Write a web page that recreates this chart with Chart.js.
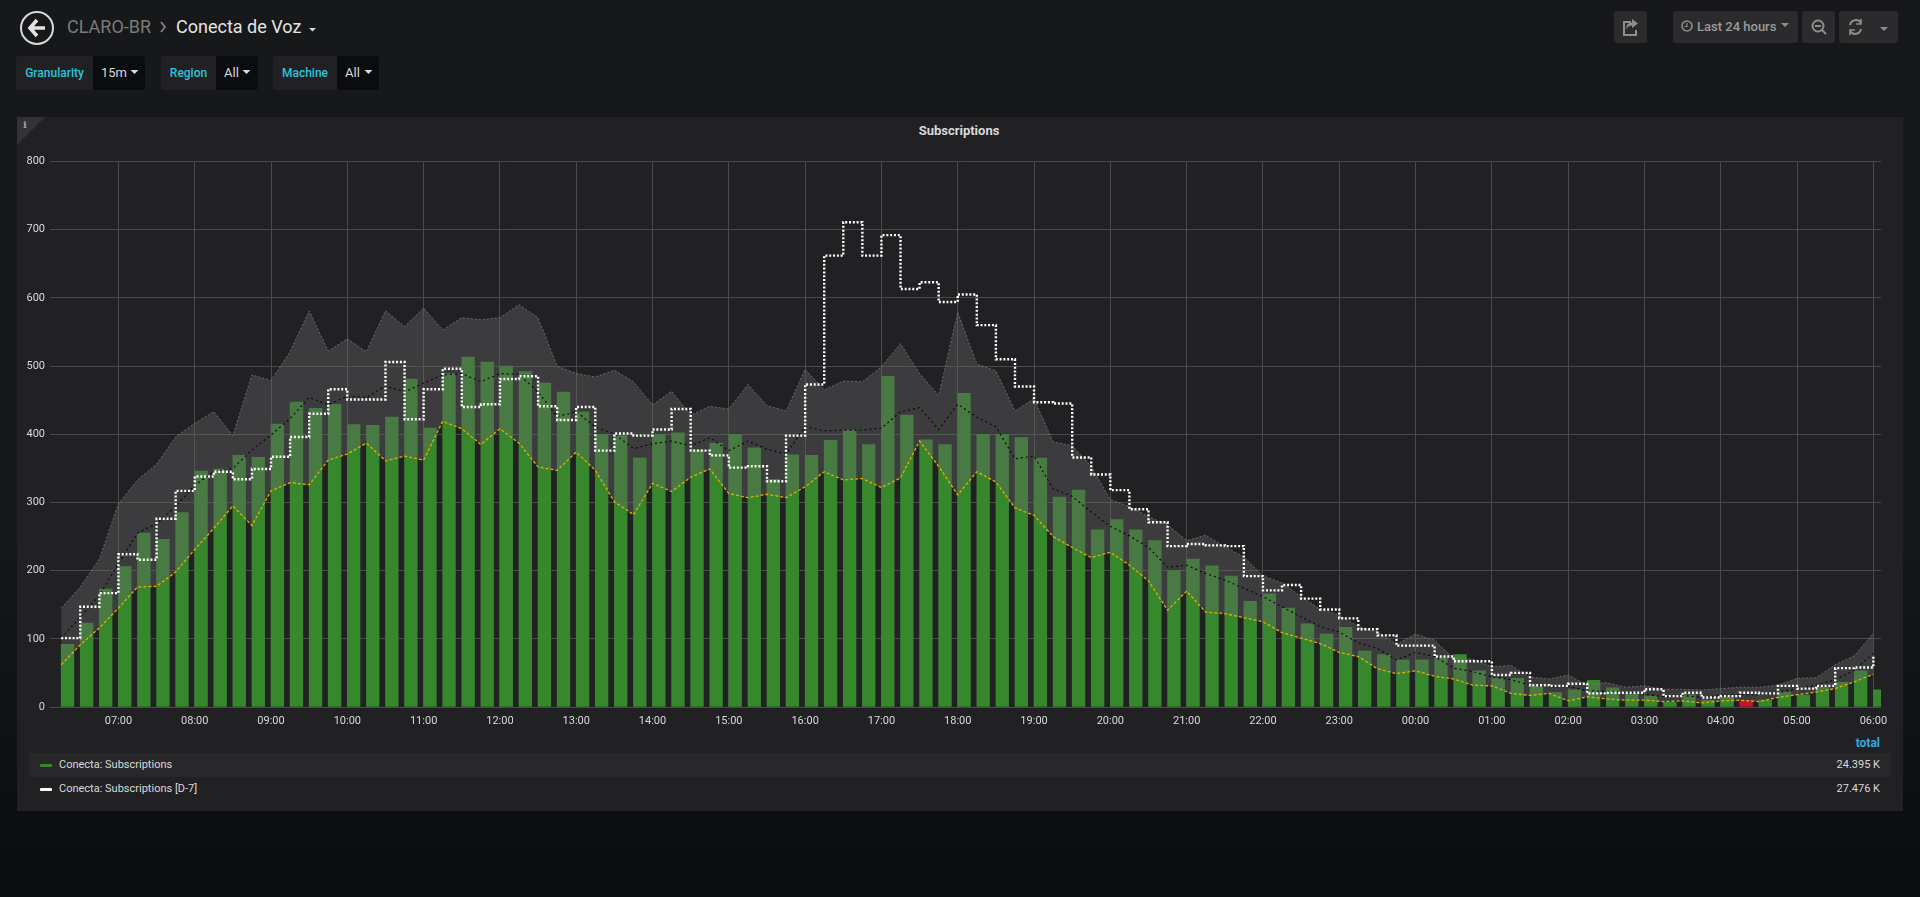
<!DOCTYPE html>
<html><head><meta charset="utf-8">
<script src="https://cdn.jsdelivr.net/npm/chart.js@4"></script>
<style>
html,body{margin:0;padding:0;width:1920px;height:897px;overflow:hidden;font-family:Roboto,sans-serif;color:#d8d9da}
body{background:linear-gradient(#17181a 0%,#161719 60%,#0b0c0e 100%)}
.a{position:absolute;white-space:nowrap}
.box{position:absolute;box-sizing:border-box}
.lbl{color:#2cc3d8;font-size:12px;font-weight:500;line-height:34px;background:#212124;top:56px;height:34px;border-radius:3px 0 0 3px;text-align:center}
.val{color:#d8d9da;font-size:13px;line-height:34px;background:#0b0c0e;top:56px;height:34px;border-radius:0 3px 3px 0}
.btn{background:#2b2b2d;top:11px;height:32px;border-radius:3px}
canvas{position:absolute;left:0;top:0}
svg{position:absolute;overflow:visible}
</style></head><body>
<div class="a" style="left:67px;top:16px;font-size:18px;line-height:22px;color:#7b7b7b">CLARO-BR</div>
<div class="a" style="left:176px;top:16px;font-size:18px;line-height:22px;color:#e4e4e4">Conecta de Voz</div>

<div class="box lbl" style="left:16px;width:77px">Granularity</div>
<div class="box val" style="left:93px;width:52px;padding-left:8px">15m</div>
<div class="box lbl" style="left:161px;width:55px">Region</div>
<div class="box val" style="left:216px;width:42px;padding-left:8px">All</div>
<div class="box lbl" style="left:273px;width:64px">Machine</div>
<div class="box val" style="left:337px;width:42px;padding-left:8px">All</div>

<div class="box btn" style="left:1614px;width:33px"></div>
<div class="box btn" style="left:1673px;width:125px"></div>
<div class="box btn" style="left:1802px;width:33px"></div>
<div class="box btn" style="left:1839px;width:59px"></div>
<div class="a" style="left:1697px;top:18px;font-size:13px;line-height:17px;color:#9a9a9a;font-weight:500">Last 24 hours</div>
<svg style="left:0;top:0;z-index:2" width="1920" height="100">
 <circle cx="37" cy="28" r="16" fill="none" stroke="#d8d9da" stroke-width="2"/>
 <path d="M37 20 L30 28 L37 36 M30 28 H45" fill="none" stroke="#e4e4e4" stroke-width="3.6"/>
 <path d="M161 22 L165 27 L161 32" fill="none" stroke="#7b7b7b" stroke-width="2"/>
 <path d="M309 28 h7 l-3.5 3.5z" fill="#d8d9da"/>
 <path d="M130.500 70 h8 l-4 4z" fill="#d8d9da"/>
 <path d="M242.500 70 h8 l-4 4z" fill="#d8d9da"/>
 <path d="M364.500 70 h8 l-4 4z" fill="#d8d9da"/>
 <g fill="none" stroke="#8e8e8e" stroke-width="2">
  <path d="M1631 22 h-7 v13 h12 v-5"/>
  <circle cx="1687" cy="26" r="5" stroke-width="1.600"/>
  <path d="M1687 23 v3.500 h-2.500" stroke-width="1.200"/>
  <circle cx="1818" cy="26" r="5.500"/>
  <path d="M1815 26 h6 M1822 30 l4 4"/>
  <path d="M1850 25 a6 6 0 0 1 11 -2 M1861 29 a6 6 0 0 1 -11 2"/>
  <path d="M1861 19 v5 h-5 M1850 35 v-5 h5" stroke-width="1.600"/>
 </g>
 <path d="M1632 19 l6 4.500 -6 4.500 v-2.500 q-4 0 -6 4 q0 -7 6 -7z" fill="#8e8e8e"/>
 <path d="M1781 23 h8 l-4 4z" fill="#8e8e8e"/>
 <path d="M1880 27 h8 l-4 4z" fill="#8e8e8e"/>
</svg>

<div class="box" style="left:17px;top:117px;width:1886px;height:694px;background:#212124"></div>
<svg style="left:0;top:0" width="60" height="150"><path d="M17 117 H45 L17 145z" fill="#333335"/></svg>
<div class="a" style="left:23px;top:119px;font-size:10px;font-weight:700;font-family:'DejaVu Serif',serif;color:#a0a0a0">i</div>
<div class="a" style="left:0;width:1918px;text-align:center;top:123px;font-size:13px;line-height:16px;font-weight:700;color:#d8d9da">Subscriptions</div>

<div class="box" style="left:30px;top:753px;width:1860px;height:24px;background:#28282a"></div>
<div class="a" style="right:40px;top:736px;font-size:12px;line-height:14px;font-weight:700;color:#33a9e0">total</div>
<div class="box" style="left:40px;top:764px;width:12px;height:3px;border-radius:1px;background:#37872d"></div>
<div class="a" style="left:59px;top:757px;font-size:11px;line-height:15px">Conecta: Subscriptions</div>
<div class="a" style="right:40px;top:757px;font-size:11px;line-height:15px">24.395 K</div>
<div class="box" style="left:40px;top:788px;width:12px;height:3px;border-radius:1px;background:#fff"></div>
<div class="a" style="left:59px;top:781px;font-size:11px;line-height:15px">Conecta: Subscriptions [D-7]</div>
<div class="a" style="right:40px;top:781px;font-size:11px;line-height:15px">27.476 K</div>

<canvas id="c" width="1920" height="897" style="width:1920px;height:897px"></canvas>
<script>
const startMinute = 15, stepMinutes = 15; // first sample 06:15, then every 15 minutes
const subscriptions = [92,123,173,206,255,246,285,346,349,369,366,415,447,438,444,414,413,425,481,409,
 489,513,506,500,492,475,462,433,400,398,365,400,402,377,387,400,380,334,370,369,
 391,406,385,485,428,392,385,460,400,400,395,365,308,318,260,275,260,244,200,217,
 207,192,155,166,145,122,107,117,82,77,69,69,72,77,53,42,42,31,21,25,
 39,28,19,16,7,18,10,14,9,10,22,18,29,36,53,25];
const lowerBound = [62,91,116,145,176,177,198,231,262,295,266,317,329,326,362,371,387,361,368,362,
 419,408,385,408,387,352,347,374,347,301,282,328,316,337,349,313,307,312,307,323,
 345,333,335,322,336,390,353,311,345,330,292,281,250,234,219,227,208,185,142,170,
 139,137,131,125,109,101,93,80,74,56,49,53,45,41,32,31,20,17,20,9,
 15,12,10,10,8,9,6,9,10,8,14,18,22,27,37,48];
const upperBound = [145,176,217,298,333,356,396,416,433,398,487,479,521,581,522,540,521,581,558,585,
 553,571,568,571,590,571,500,489,484,494,477,443,463,428,441,437,473,442,434,495,
 465,478,477,499,533,489,457,579,503,493,434,452,389,383,353,304,294,279,267,244,
 252,235,220,192,182,162,143,135,118,110,92,107,98,71,70,59,61,44,41,47,
 32,36,29,31,26,26,25,27,29,29,32,42,43,62,75,108];
const meanLine = [101,132,164,210,255,269,294,325,345,350,377,399,423,454,443,456,454,471,462,475,
 487,489,477,489,488,462,426,433,411,400,379,386,390,383,395,376,390,378,371,411,
 405,406,406,409,433,439,407,444,425,411,364,368,320,309,286,265,251,234,205,208,
 196,186,174,162,147,132,118,110,94,86,69,80,74,57,52,44,40,32,30,30,
 24,23,22,19,15,17,14,17,18,18,21,27,32,40,54,79];
const previousWeek = [101,147,167,224,216,276,317,338,345,334,349,367,396,430,466,451,451,506,422,466,
 496,440,444,481,485,441,421,440,376,401,398,407,437,376,369,351,353,331,398,473,
 662,711,662,692,613,623,594,605,560,510,470,447,445,366,341,318,290,271,236,239,
 237,236,192,171,179,159,143,130,114,105,90,90,74,67,67,47,50,32,31,34,
 20,21,21,26,16,21,14,16,21,20,31,27,31,57,58,74];
const alertBarIndex = 88;
const yTicks = [0,100,200,300,400,500,600,700,800];
const hourTicks = [60,120,180,240,300,360,420,480,540,600,660,720,780,840,900,960,1020,1080,1140,1200,1260,1320,1380,1440];
const hourOfDay = [7,8,9,10,11,12,13,14,15,16,17,18,19,20,21,22,23,0,1,2,3,4,5,6];

const minuteOf = i => startMinute + i*stepMinutes;
const barLeftShift = 5; // bars start at their sample time instead of being centred on it
const pts = arr => arr.map((v,i)=>({x:minuteOf(i),y:v}));
const labelFor = m => String(hourOfDay[hourTicks.indexOf(m)]).padStart(2,'0')+':00';

Chart.defaults.font.family='Roboto';
new Chart(document.getElementById('c'),{
 data:{datasets:[
  {type:'line',label:'upper',data:pts(upperBound),order:3,fill:'+1',backgroundColor:'rgba(103,103,103,0.4)',
   borderColor:'rgba(125,125,125,0.75)',borderWidth:1,borderDash:[2,2],pointRadius:0,tension:0},
  {type:'line',label:'lower',data:pts(lowerBound),order:2,fill:false,borderColor:'#e0b000',borderWidth:1.3,borderDash:[3,2],pointRadius:0,tension:0},
  {type:'line',label:'mean',data:pts(meanLine),order:1,fill:false,borderColor:'#0a0a0a',borderWidth:1.2,borderDash:[2,3],pointRadius:0,tension:0},
  {type:'line',label:'Conecta: Subscriptions [D-7]',data:pts(previousWeek),order:0,fill:false,stepped:'before',borderColor:'#ffffff',borderWidth:2.4,borderDash:[2,1.8],pointRadius:0,tension:0},
  {type:'bar',label:'Conecta: Subscriptions',data:subscriptions.map((v,i)=>({x:minuteOf(i)+barLeftShift,y:v})),order:5,
   barThickness:12.7,backgroundColor:subscriptions.map((v,i)=>i===alertBarIndex?'#c4162a':'#37872d'),borderWidth:0}
 ]},
 options:{
  responsive:false,animation:false,devicePixelRatio:1,
  layout:{padding:{top:161.5,right:39,left:0,bottom:0}},
  plugins:{legend:{display:false},tooltip:{enabled:false},title:{display:false}},
  scales:{
   x:{type:'linear',min:6.2,max:1446,offset:false,
    afterBuildTicks(s){s.ticks=hourTicks.map(v=>({value:v}));},
    afterFit(s){s.height=190;},
    grid:{color:'#4a4a4c',drawTicks:false,lineWidth:1,offset:false},border:{display:false},
    ticks:{color:'#d8d9da',font:{size:11},padding:8,maxRotation:0,autoSkip:false,callback:v=>labelFor(v)}},
   y:{min:0,max:800,
    afterBuildTicks(s){s.ticks=yTicks.map(v=>({value:v}));},
    afterFit(s){s.width=50;},
    grid:{color:'#4a4a4c',drawTicks:false,lineWidth:1},border:{display:false},
    ticks:{color:'#d8d9da',font:{size:11},padding:5,callback:v=>String(v)}}
  }
 }
});
</script>
</body></html>
